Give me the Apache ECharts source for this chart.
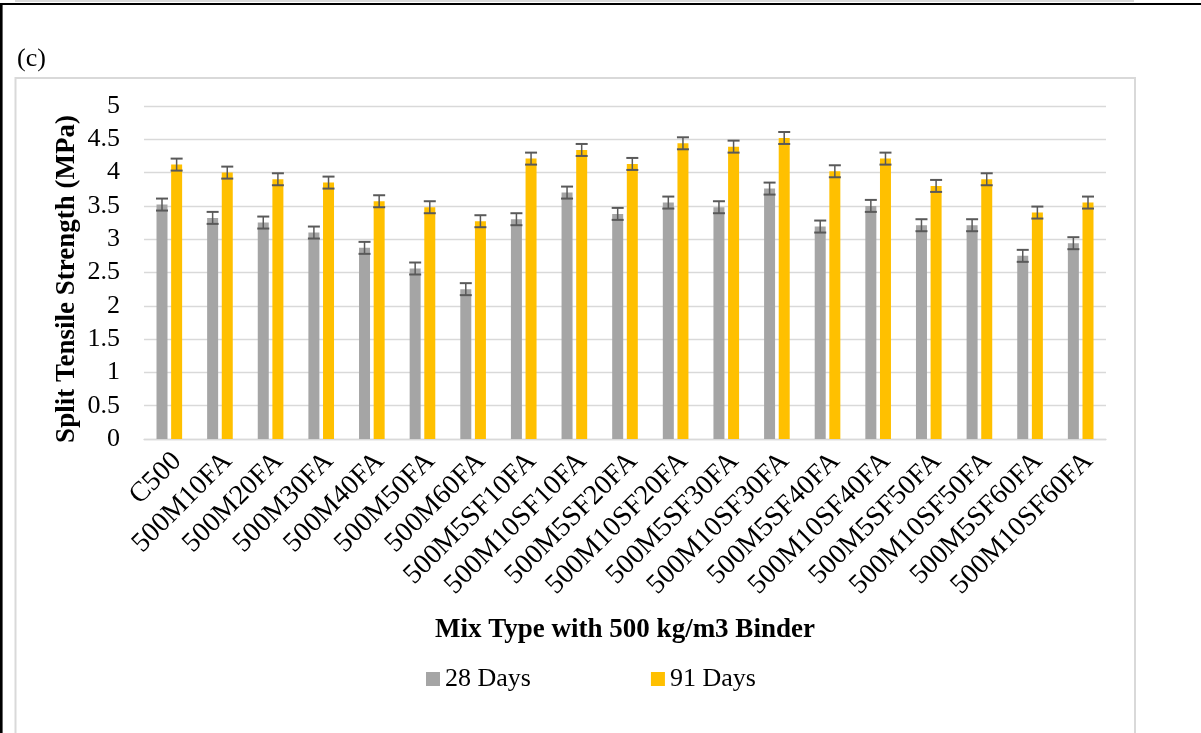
<!DOCTYPE html>
<html>
<head>
<meta charset="utf-8">
<title>Split Tensile Strength – 500 kg/m3 Binder</title>
<script src="https://cdn.jsdelivr.net/npm/echarts@6/dist/echarts.min.js"></script>
<style>
  html, body { margin: 0; padding: 0; background: #fff; }
  #chart { width: 1201px; height: 733px; }
</style>
</head>
<body>
<div id="chart"></div>
<script>
// Mix designs on the x axis
const mixTypes = [
  'C500', '500M10FA', '500M20FA', '500M30FA', '500M40FA', '500M50FA', '500M60FA',
  '500M5SF10FA', '500M10SF10FA', '500M5SF20FA', '500M10SF20FA', '500M5SF30FA',
  '500M10SF30FA', '500M5SF40FA', '500M10SF40FA', '500M5SF50FA', '500M10SF50FA',
  '500M5SF60FA', '500M10SF60FA'
];

// Split tensile strength (MPa)
const days28 = [3.52, 3.32, 3.25, 3.10, 2.87, 2.56, 2.25, 3.30, 3.70, 3.38, 3.55, 3.48, 3.76, 3.19, 3.50, 3.21, 3.21, 2.75, 2.94];
const days91 = [4.12, 4.00, 3.90, 3.85, 3.57, 3.48, 3.27, 4.21, 4.34, 4.13, 4.44, 4.39, 4.52, 4.02, 4.21, 3.80, 3.90, 3.40, 3.55];

// Error bar half-lengths (MPa)
const err28 = [0.09, 0.09, 0.09, 0.09, 0.09, 0.09, 0.09, 0.09, 0.09, 0.09, 0.09, 0.09, 0.09, 0.09, 0.09, 0.09, 0.09, 0.09, 0.09];
const err91 = [0.09, 0.09, 0.09, 0.09, 0.09, 0.09, 0.09, 0.09, 0.09, 0.09, 0.09, 0.09, 0.09, 0.09, 0.09, 0.09, 0.09, 0.09, 0.09];

const seriesNames = ['28 Days', '91 Days'];
const yTicks = { min: 0, max: 5, interval: 0.5 };

const FONT = '"Liberation Serif", "Times New Roman", serif';
const GRAY = '#A5A5A5';
const GOLD = '#FFC000';
const ERR_COLOR = '#595959';
const BAR_W = 11;
const BAR_GAP = 0.33;
const BAR_SHIFT = (BAR_W + BAR_W * BAR_GAP) / 2;

function errorBarItem(sign) {
  return function (params, api) {
    const idx = api.value(0);
    const val = api.value(1);
    const e = api.value(2);
    const top = api.coord([idx, val + e]);
    const bot = api.coord([idx, val - e]);
    const x = top[0] + sign * BAR_SHIFT;
    const half = 6;
    const style = { stroke: ERR_COLOR, lineWidth: 2 };
    return {
      type: 'group',
      children: [
        { type: 'line', shape: { x1: x, y1: top[1], x2: x, y2: bot[1] }, style: { stroke: ERR_COLOR, lineWidth: 1.5 } },
        { type: 'line', shape: { x1: x - half, y1: top[1], x2: x + half, y2: top[1] }, style },
        { type: 'line', shape: { x1: x - half, y1: bot[1], x2: x + half, y2: bot[1] }, style }
      ]
    };
  };
}

const chart = echarts.init(document.getElementById('chart'), null, { renderer: 'canvas' });

const option = {
  backgroundColor: '#fff',
  animation: false,
  textStyle: { fontFamily: FONT, color: '#000' },
  graphic: [
    // frame of the figure panel
    { type: 'line', shape: { x1: 15, y1: 1, x2: 1134, y2: 1 }, style: { stroke: '#d9d9d9', lineWidth: 2 } },
    { type: 'line', shape: { x1: 0, y1: 4, x2: 1201, y2: 4 }, style: { stroke: '#000', lineWidth: 2 } },
    { type: 'line', shape: { x1: 1.3, y1: 3, x2: 1.3, y2: 733 }, style: { stroke: '#000', lineWidth: 2.6 } },
    // chart area border
    { type: 'rect', shape: { x: 15.5, y: 78, width: 1119.5, height: 700 }, style: { fill: null, stroke: '#d9d9d9', lineWidth: 2 } },
    // panel tag
    { type: 'text', left: 17, top: 46, style: { text: '(c)', font: '26px ' + FONT, fill: '#000' } },
    // value axis title
    {
      type: 'text',
      x: 67,
      y: 279,
      rotation: Math.PI / 2,
      style: {
        text: 'Split Tensile Strength (MPa)',
        font: 'bold 27px ' + FONT,
        fill: '#000',
        align: 'center',
        verticalAlign: 'middle'
      }
    }
  ],
  legend: {
    data: seriesNames,
    left: 421,
    top: 661,
    icon: 'rect',
    itemWidth: 14,
    itemHeight: 14,
    itemGap: 120,
    textStyle: { fontFamily: FONT, fontSize: 26, color: '#000' }
  },
  grid: [
    { left: 144, right: 95, top: 106, bottom: 294 },
    { left: 152, right: 87, top: 106, bottom: 294 }
  ],
  xAxis: [
    {
      type: 'category',
      gridIndex: 0,
      data: mixTypes,
      axisLine: { show: true, lineStyle: { color: '#d9d9d9', width: 1.3 } },
      axisTick: { show: false },
      axisLabel: { show: false },
      name: 'Mix Type with 500 kg/m3 Binder',
      nameLocation: 'middle',
      nameGap: 178,
      nameTextStyle: { fontFamily: FONT, fontSize: 27, fontWeight: 'bold', color: '#000' }
    },
    {
      // rotated category labels, set slightly right as in the original figure
      type: 'category',
      gridIndex: 1,
      data: mixTypes,
      axisLine: { show: false },
      axisTick: { show: false },
      axisLabel: {
        interval: 0,
        rotate: 45,
        margin: 18,
        fontFamily: FONT,
        fontSize: 28,
        color: '#000'
      }
    }
  ],
  yAxis: [
    {
      type: 'value',
      gridIndex: 0,
      min: yTicks.min,
      max: yTicks.max,
      interval: yTicks.interval,
      axisLine: { show: false },
      axisTick: { show: false },
      splitLine: { lineStyle: { color: '#d9d9d9', width: 1.3 } },
      axisLabel: { margin: 24, fontFamily: FONT, fontSize: 26, color: '#000' }
    },
    { type: 'value', gridIndex: 1, min: 0, max: 5, show: false }
  ],
  series: [
    {
      name: seriesNames[0],
      type: 'bar',
      xAxisIndex: 0,
      yAxisIndex: 0,
      data: days28,
      barWidth: BAR_W,
      barGap: (BAR_GAP * 100) + '%',
      itemStyle: { color: GRAY }
    },
    {
      name: seriesNames[1],
      type: 'bar',
      xAxisIndex: 0,
      yAxisIndex: 0,
      data: days91,
      barWidth: BAR_W,
      barGap: (BAR_GAP * 100) + '%',
      itemStyle: { color: GOLD }
    },
    {
      name: seriesNames[0] + ' error',
      type: 'custom',
      xAxisIndex: 0,
      yAxisIndex: 0,
      renderItem: errorBarItem(-1),
      data: days28.map((v, i) => [i, v, err28[i]]),
      z: 10,
      silent: true
    },
    {
      name: seriesNames[1] + ' error',
      type: 'custom',
      xAxisIndex: 0,
      yAxisIndex: 0,
      renderItem: errorBarItem(1),
      data: days91.map((v, i) => [i, v, err91[i]]),
      z: 10,
      silent: true
    }
  ]
};

chart.setOption(option);
</script>
</body>
</html>
